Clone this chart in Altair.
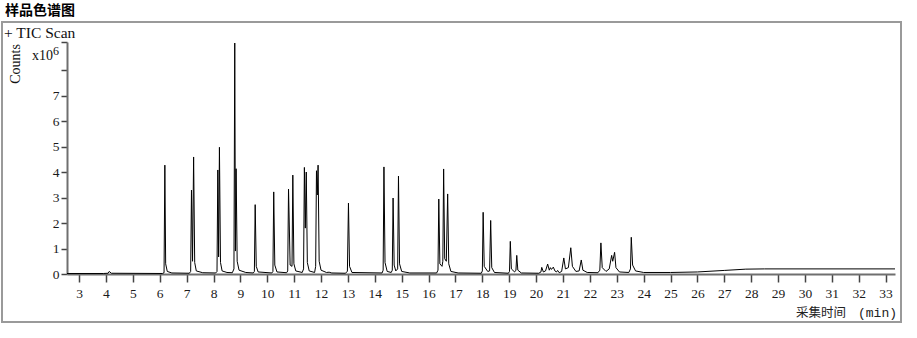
import altair as alt
import pandas as pd

# ---- data (time in min, counts in x10^6) ----
trace_time = [
    2.55, 3.90, 4.08, 4.12, 4.20,
    6.10, 6.16, 6.19, 6.22, 6.28, 6.45,
    7.10, 7.15, 7.18, 7.22, 7.26, 7.30, 7.36, 7.60,
    8.08, 8.13, 8.16, 8.19, 8.22, 8.26, 8.32, 8.50,
    8.70, 8.76, 8.79, 8.815, 8.84, 8.88, 8.95, 9.20,
    9.48, 9.52, 9.55, 9.59, 9.66,
    10.17, 10.21, 10.24, 10.28, 10.36,
    10.72, 10.76, 10.79, 10.85, 10.92, 10.95, 10.99, 11.06,
    11.30, 11.35, 11.38, 11.415, 11.45, 11.49, 11.56,
    11.76, 11.80, 11.83, 11.86, 11.89, 11.93, 12.00, 12.20, 12.30, 12.40,
    12.90, 12.98, 13.02, 13.06, 13.15,
    14.27, 14.31, 14.34, 14.38, 14.46,
    14.61, 14.65, 14.68, 14.72, 14.78, 14.85, 14.88, 14.92, 15.00, 15.30,
    16.30, 16.35, 16.38, 16.42, 16.50, 16.53, 16.56, 16.60, 16.66, 16.71, 16.75, 16.83, 17.10,
    17.96, 18.00, 18.03, 18.07, 18.20, 18.27, 18.31, 18.35, 18.45,
    18.97, 19.01, 19.04, 19.08, 19.20, 19.25, 19.28, 19.32, 19.45,
    20.10, 20.18, 20.21, 20.27, 20.35, 20.43, 20.49, 20.53, 20.57, 20.64, 20.70, 20.76, 20.80, 20.86,
    20.95, 21.03, 21.09, 21.20, 21.29, 21.35, 21.48, 21.60, 21.68, 21.74, 21.90,
    22.30, 22.37, 22.41, 22.46, 22.60, 22.72, 22.81, 22.85, 22.92, 22.97, 23.10,
    23.45, 23.51, 23.54, 23.59, 23.70, 24.00,
    25.00, 26.00, 27.00, 27.80, 28.50, 33.35,
]
trace_counts = [
    0.02, 0.02, 0.03, 0.10, 0.03,
    0.02, 0.05, 4.27, 0.40, 0.10, 0.04,
    0.03, 0.10, 3.29, 0.50, 4.59, 0.45, 0.12, 0.05,
    0.04, 0.10, 4.08, 0.67, 4.97, 0.45, 0.12, 0.06,
    0.05, 0.20, 9.06, 0.90, 4.13, 0.50, 0.15, 0.06,
    0.04, 0.10, 2.72, 0.30, 0.08,
    0.04, 0.10, 3.22, 0.35, 0.08,
    0.05, 0.12, 3.33, 0.35, 0.30, 3.88, 0.40, 0.12,
    0.06, 0.20, 4.18, 1.80, 4.00, 0.45, 0.12,
    0.06, 0.30, 4.05, 3.10, 4.27, 0.50, 0.15, 0.06, 0.07, 0.04,
    0.03, 0.10, 2.78, 0.30, 0.06,
    0.04, 0.15, 4.20, 0.45, 0.10,
    0.06, 0.15, 2.98, 0.35, 0.12, 0.20, 3.84, 0.40, 0.10, 0.04,
    0.04, 0.15, 2.94, 0.40, 0.30, 0.50, 4.12, 0.60, 0.50, 3.14, 0.40, 0.10, 0.04,
    0.03, 0.12, 2.42, 0.30, 0.10, 0.12, 2.10, 0.25, 0.06,
    0.03, 0.10, 1.28, 0.20, 0.08, 0.15, 0.73, 0.15, 0.04,
    0.03, 0.08, 0.26, 0.08, 0.12, 0.39, 0.15, 0.25, 0.18, 0.27, 0.12, 0.08, 0.14, 0.05,
    0.10, 0.63, 0.20, 0.25, 1.03, 0.30, 0.10, 0.12, 0.55, 0.15, 0.06,
    0.05, 0.15, 1.22, 0.25, 0.10, 0.20, 0.73, 0.50, 0.85, 0.25, 0.08,
    0.06, 0.20, 1.44, 0.35, 0.12, 0.06,
    0.06, 0.08, 0.14, 0.19, 0.20, 0.20,
]
x_tick_values = list(range(3, 34))
y_tick_values = [0, 1, 2, 3, 4, 5, 6, 7, 8, 9.1]

df = pd.DataFrame({"t": trace_time, "c": trace_counts})
one = pd.DataFrame({"a": [0]})

W, H = 828, 232
x_scale = alt.Scale(domain=[2.55, 33.35], nice=False, zero=False)
y_scale = alt.Scale(domain=[0, 9.1], nice=False)

line = alt.Chart(df).mark_line(color="black", strokeWidth=1, clip=True).encode(
    x=alt.X("t:Q", scale=x_scale,
            axis=alt.Axis(values=x_tick_values, title=None, grid=False,
                          domainColor="#6f6f6f", domainWidth=2,
                          tickColor="#444444", tickSize=8, tickWidth=1.5,
                          labelFont="Liberation Serif", labelFontSize=13.5,
                          labelColor="#1a1a1a", labelPadding=4, labelFlush=False)),
    y=alt.Y("c:Q", scale=y_scale,
            axis=alt.Axis(values=y_tick_values, title=None, grid=False,
                          labelExpr="datum.value > 7.5 ? '' : datum.label",
                          domainColor="#6f6f6f", domainWidth=2,
                          tickColor="#444444", tickSize=6, tickWidth=1.5,
                          labelFont="Liberation Serif", labelFontSize=13.5,
                          labelColor="#1a1a1a", labelPadding=2)),
)

frame = alt.Chart(one).mark_rect(fill=None, stroke="#9a9a9a", strokeWidth=2).encode(
    x=alt.value(-65), x2=alt.value(834), y=alt.value(-20), y2=alt.value(280)
)

def txt(text, x, y, **kw):
    return alt.Chart(one).mark_text(text=text, **kw).encode(x=alt.value(x), y=alt.value(y))

title = txt("样品色谱图", -62, -31, font="Noto Sans CJK SC", fontSize=14, fontWeight="bold",
            align="left", baseline="middle", color="black")
tic = txt("+ TIC Scan", -63, -9, font="Liberation Serif", fontSize=15.5,
          align="left", baseline="middle", color="#111111")
counts = txt("Counts", -51, 22, font="Liberation Serif", fontSize=14, angle=270,
             align="center", baseline="middle", color="#111111")
x10 = txt("x10", -35, 18, font="Liberation Serif", fontSize=14,
          align="left", baseline="alphabetic", color="#111111")
sup6 = txt("6", -14, 13, font="Liberation Serif", fontSize=12,
           align="left", baseline="alphabetic", color="#111111")
xtitle_cn = txt("采集时间", 779, 271, font="Noto Sans CJK SC", fontSize=12.5,
                align="right", baseline="middle", color="#222222")
xtitle_unit = txt("(min)", 830, 271, font="Liberation Mono", fontSize=13,
                  align="right", baseline="middle", color="#222222")

chart = alt.layer(frame, line, title, tic, counts, x10, sup6, xtitle_cn, xtitle_unit).properties(
    width=W, height=H,
    padding={"left": 67, "top": 42, "right": 22, "bottom": 64},
    autosize=alt.AutoSizeParams(type="none"),
    background="white",
).configure_view(stroke=None)

chart.save("out.html", embed_options={"renderer": "svg", "actions": False})
